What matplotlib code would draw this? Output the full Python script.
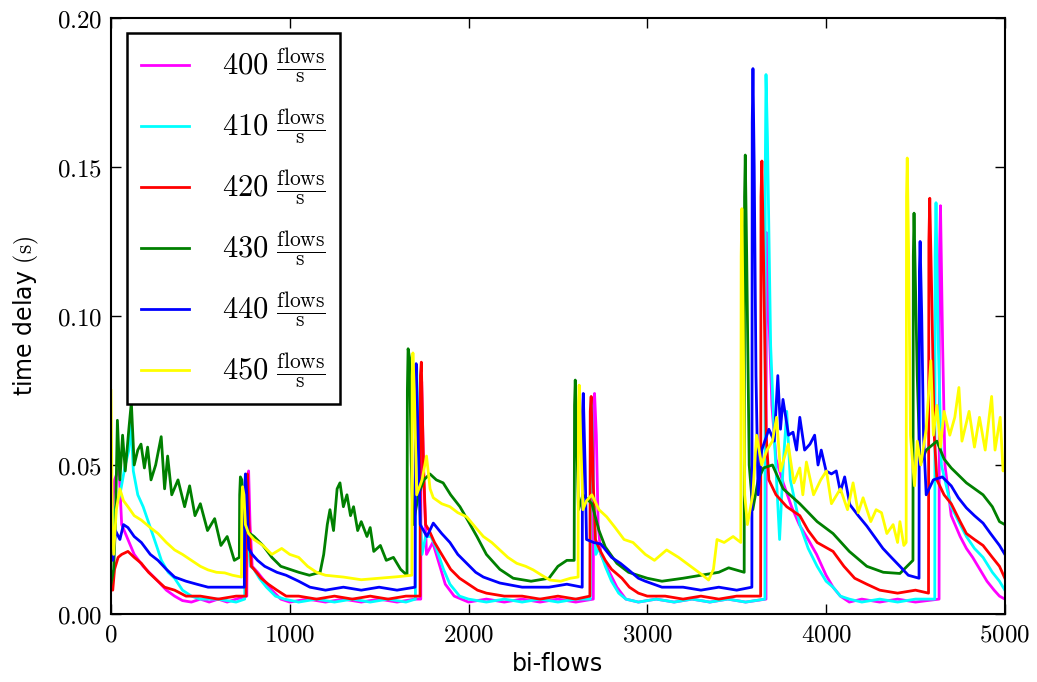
import matplotlib
matplotlib.use("Agg")
from matplotlib import pyplot as plt
from matplotlib.ticker import FuncFormatter

plt.rcParams['mathtext.fontset'] = 'cm'
plt.rcParams['font.family'] = ['DejaVu Sans']

# (bi-flows, time delay in s), one list per rate
rate_400 = [(0, 0.030), (20, 0.045), (45, 0.049), (60, 0.030), (95, 0.025), (130, 0.020), (180, 0.016),
            (230, 0.013), (263, 0.011), (310, 0.008), (356, 0.006), (400, 0.0045), (450, 0.004), (500, 0.005),
            (550, 0.004), (600, 0.005), (650, 0.004), (700, 0.005), (760, 0.006),
            (763, 0.046), (770, 0.048), (778, 0.030), (790, 0.016), (820, 0.014), (860, 0.011), (900, 0.008),
            (950, 0.005), (1000, 0.004), (1100, 0.005), (1200, 0.004), (1300, 0.005), (1400, 0.004),
            (1500, 0.005), (1600, 0.004), (1700, 0.005), (1733, 0.005),
            (1734, 0.070), (1738, 0.078), (1750, 0.045), (1765, 0.020), (1800, 0.024), (1830, 0.018),
            (1870, 0.010), (1920, 0.006), (2000, 0.004), (2100, 0.005), (2200, 0.004), (2300, 0.005),
            (2400, 0.004), (2500, 0.005), (2600, 0.004), (2698, 0.005),
            (2700, 0.060), (2705, 0.074), (2715, 0.060), (2725, 0.030), (2740, 0.020), (2780, 0.015),
            (2830, 0.009), (2880, 0.005), (2950, 0.004), (3050, 0.005), (3150, 0.004), (3250, 0.005),
            (3350, 0.004), (3450, 0.005), (3550, 0.004), (3664, 0.005),
            (3666, 0.128), (3680, 0.100), (3697, 0.070), (3720, 0.052), (3760, 0.044), (3807, 0.036),
            (3850, 0.030), (3900, 0.025), (3947, 0.020), (4000, 0.013), (4039, 0.009), (4080, 0.006),
            (4130, 0.004), (4200, 0.005), (4300, 0.004), (4400, 0.005), (4500, 0.004), (4632, 0.005),
            (4634, 0.120), (4640, 0.137), (4652, 0.090), (4665, 0.050), (4700, 0.033), (4750, 0.026),
            (4785, 0.022), (4820, 0.019), (4860, 0.015), (4900, 0.011), (4940, 0.008), (4970, 0.006),
            (5000, 0.005)]

rate_410 = [(0, 0.025), (20, 0.035), (50, 0.040), (80, 0.050), (100, 0.055), (113, 0.064), (125, 0.048),
            (150, 0.040), (180, 0.036), (226, 0.028), (260, 0.022), (282, 0.018), (320, 0.014), (356, 0.012),
            (400, 0.008), (450, 0.006), (500, 0.005), (600, 0.005), (700, 0.004), (748, 0.005),
            (750, 0.044), (756, 0.046), (765, 0.025), (780, 0.016), (800, 0.015), (830, 0.012), (870, 0.009),
            (920, 0.006), (970, 0.005), (1050, 0.004), (1150, 0.005), (1250, 0.004), (1350, 0.005),
            (1450, 0.004), (1550, 0.005), (1650, 0.004), (1703, 0.005),
            (1705, 0.080), (1710, 0.083), (1725, 0.040), (1740, 0.020), (1760, 0.026), (1790, 0.026),
            (1820, 0.022), (1860, 0.015), (1896, 0.010), (1950, 0.006), (2000, 0.005), (2100, 0.004),
            (2200, 0.005), (2300, 0.004), (2400, 0.005), (2500, 0.004), (2600, 0.005), (2681, 0.005),
            (2683, 0.068), (2688, 0.072), (2700, 0.040), (2712, 0.020), (2730, 0.022), (2765, 0.016),
            (2800, 0.011), (2840, 0.007), (2880, 0.005), (2950, 0.004), (3050, 0.005), (3150, 0.004),
            (3250, 0.005), (3350, 0.004), (3450, 0.005), (3550, 0.004), (3658, 0.005),
            (3660, 0.150), (3664, 0.181), (3672, 0.160), (3690, 0.090), (3710, 0.060), (3740, 0.025),
            (3760, 0.050), (3780, 0.068), (3800, 0.045), (3853, 0.030), (3900, 0.022), (3950, 0.016),
            (4000, 0.011), (4039, 0.009), (4080, 0.006), (4130, 0.005), (4200, 0.004), (4300, 0.005),
            (4400, 0.004), (4500, 0.005), (4608, 0.005),
            (4610, 0.120), (4615, 0.138), (4628, 0.090), (4645, 0.050), (4700, 0.036), (4750, 0.030),
            (4785, 0.026), (4830, 0.022), (4878, 0.019), (4930, 0.014), (4970, 0.011), (5000, 0.008)]

rate_420 = [(0, 0.010), (10, 0.008), (20, 0.015), (40, 0.019), (60, 0.020), (95, 0.021), (130, 0.019),
            (170, 0.017), (210, 0.014), (263, 0.011), (300, 0.009), (356, 0.008), (420, 0.006), (500, 0.006),
            (600, 0.005), (700, 0.006), (756, 0.006),
            (758, 0.040), (763, 0.047), (772, 0.030), (785, 0.016), (800, 0.015), (840, 0.012), (880, 0.010),
            (928, 0.008), (980, 0.006), (1050, 0.006), (1150, 0.005), (1250, 0.006), (1350, 0.005),
            (1450, 0.006), (1550, 0.005), (1650, 0.006), (1729, 0.006),
            (1731, 0.080), (1736, 0.0845), (1748, 0.050), (1760, 0.030), (1780, 0.028), (1810, 0.024),
            (1850, 0.020), (1900, 0.015), (1950, 0.012), (2000, 0.010), (2050, 0.008), (2100, 0.007),
            (2200, 0.006), (2300, 0.006), (2400, 0.005), (2500, 0.006), (2600, 0.005), (2679, 0.006),
            (2681, 0.068), (2686, 0.073), (2697, 0.045), (2710, 0.025), (2730, 0.022), (2765, 0.018),
            (2800, 0.015), (2858, 0.012), (2900, 0.009), (2950, 0.007), (3000, 0.006), (3100, 0.006),
            (3200, 0.005), (3300, 0.006), (3400, 0.005), (3500, 0.006), (3634, 0.006),
            (3636, 0.140), (3641, 0.152), (3650, 0.120), (3665, 0.060), (3680, 0.045), (3720, 0.040),
            (3780, 0.036), (3853, 0.033), (3900, 0.028), (3950, 0.024), (4039, 0.021), (4100, 0.016),
            (4160, 0.012), (4228, 0.010), (4300, 0.008), (4400, 0.007), (4500, 0.008), (4573, 0.007),
            (4575, 0.125), (4580, 0.1395), (4590, 0.110), (4605, 0.060), (4620, 0.045), (4660, 0.040),
            (4700, 0.037), (4750, 0.031), (4785, 0.027), (4830, 0.025), (4878, 0.023), (4930, 0.019),
            (4970, 0.016), (5000, 0.012)]

rate_430 = [(0, 0.010), (15, 0.015), (25, 0.030), (36, 0.065), (50, 0.045), (65, 0.060), (80, 0.048),
            (100, 0.062), (114, 0.071), (130, 0.050), (150, 0.055), (168, 0.057), (187, 0.049), (205, 0.056),
            (224, 0.045), (250, 0.050), (281, 0.0595), (300, 0.042), (317, 0.053), (340, 0.040), (375, 0.045),
            (412, 0.036), (440, 0.043), (470, 0.033), (500, 0.037), (540, 0.028), (580, 0.032), (615, 0.023),
            (650, 0.026), (690, 0.018), (718, 0.019),
            (720, 0.040), (724, 0.046), (732, 0.045), (740, 0.030), (755, 0.028), (800, 0.026), (850, 0.023),
            (900, 0.019), (950, 0.016), (1000, 0.015), (1050, 0.014), (1110, 0.013), (1170, 0.014),
            (1190, 0.020), (1210, 0.030), (1225, 0.035), (1245, 0.028), (1265, 0.042), (1281, 0.044),
            (1300, 0.036), (1320, 0.040), (1340, 0.033), (1357, 0.036), (1380, 0.028), (1400, 0.031),
            (1432, 0.026), (1450, 0.029), (1470, 0.021), (1507, 0.023), (1540, 0.018), (1580, 0.019),
            (1620, 0.015), (1656, 0.013),
            (1658, 0.075), (1662, 0.089), (1670, 0.086), (1680, 0.050), (1690, 0.030), (1720, 0.040),
            (1750, 0.045), (1784, 0.047), (1820, 0.045), (1858, 0.044), (1900, 0.040), (1952, 0.036),
            (2000, 0.031), (2047, 0.026), (2100, 0.020), (2175, 0.015), (2250, 0.012), (2350, 0.011),
            (2450, 0.012), (2500, 0.016), (2550, 0.018), (2591, 0.018),
            (2593, 0.070), (2597, 0.0785), (2605, 0.060), (2615, 0.035), (2640, 0.040), (2690, 0.037),
            (2730, 0.028), (2765, 0.0225), (2830, 0.017), (2895, 0.014), (3000, 0.012), (3082, 0.011),
            (3200, 0.012), (3300, 0.013), (3400, 0.014), (3455, 0.0155), (3542, 0.014),
            (3544, 0.140), (3548, 0.154), (3556, 0.120), (3570, 0.050), (3590, 0.035), (3620, 0.045),
            (3650, 0.049), (3700, 0.050), (3760, 0.042), (3853, 0.037), (3950, 0.031), (4039, 0.027),
            (4130, 0.021), (4228, 0.016), (4320, 0.014), (4413, 0.0136), (4486, 0.018),
            (4488, 0.120), (4492, 0.1345), (4500, 0.110), (4510, 0.080), (4525, 0.050), (4560, 0.055),
            (4620, 0.058), (4660, 0.052), (4700, 0.049), (4785, 0.044), (4878, 0.040), (4930, 0.036),
            (4970, 0.031), (5000, 0.030)]

rate_440 = [(0, 0.030), (10, 0.018), (25, 0.028), (50, 0.025), (70, 0.030), (95, 0.029), (130, 0.026),
            (170, 0.024), (220, 0.020), (263, 0.018), (310, 0.015), (356, 0.0124), (420, 0.011), (480, 0.010),
            (543, 0.009), (640, 0.009), (746, 0.009),
            (748, 0.040), (752, 0.047), (760, 0.040), (770, 0.022), (790, 0.020), (820, 0.018), (860, 0.016),
            (928, 0.014), (980, 0.013), (1050, 0.011), (1113, 0.009), (1200, 0.008), (1300, 0.009),
            (1400, 0.008), (1500, 0.009), (1600, 0.008), (1701, 0.009),
            (1703, 0.078), (1707, 0.084), (1718, 0.060), (1730, 0.030), (1767, 0.026), (1803, 0.0305),
            (1850, 0.027), (1896, 0.024), (1940, 0.020), (1990, 0.017), (2040, 0.014), (2083, 0.0124),
            (2175, 0.0104), (2300, 0.009), (2450, 0.009), (2550, 0.010), (2636, 0.009),
            (2638, 0.068), (2642, 0.074), (2652, 0.050), (2660, 0.025), (2700, 0.024), (2740, 0.0235),
            (2800, 0.019), (2850, 0.017), (2895, 0.0148), (2950, 0.012), (2989, 0.011), (3082, 0.009),
            (3200, 0.009), (3300, 0.008), (3400, 0.009), (3500, 0.008), (3585, 0.009),
            (3587, 0.165), (3591, 0.183), (3598, 0.150), (3608, 0.080), (3620, 0.040), (3640, 0.055),
            (3680, 0.062), (3710, 0.058), (3730, 0.080), (3745, 0.062), (3759, 0.072), (3790, 0.060),
            (3815, 0.061), (3835, 0.055), (3853, 0.066), (3880, 0.055), (3910, 0.057), (3936, 0.060),
            (3955, 0.050), (3973, 0.055), (4000, 0.048), (4030, 0.047), (4057, 0.048), (4080, 0.041),
            (4104, 0.046), (4133, 0.0367), (4180, 0.033), (4228, 0.0295), (4270, 0.026), (4318, 0.022),
            (4365, 0.019), (4413, 0.016), (4460, 0.013), (4520, 0.012),
            (4522, 0.115), (4526, 0.125), (4535, 0.100), (4545, 0.060), (4560, 0.040), (4600, 0.045),
            (4650, 0.046), (4700, 0.043), (4740, 0.039), (4785, 0.0356), (4830, 0.033), (4878, 0.0305),
            (4920, 0.027), (4970, 0.023), (5000, 0.020)]

rate_450 = [(0, 0.075), (8, 0.030), (15, 0.020), (30, 0.035), (50, 0.042), (70, 0.038), (95, 0.036),
            (130, 0.033), (170, 0.0315), (220, 0.029), (263, 0.027), (310, 0.024), (356, 0.0215), (400, 0.020),
            (450, 0.018), (500, 0.016), (543, 0.0148), (590, 0.014), (636, 0.0138), (680, 0.013), (730, 0.0124),
            (732, 0.038), (736, 0.0427), (744, 0.040), (752, 0.030), (770, 0.027), (800, 0.025), (850, 0.023),
            (900, 0.020), (955, 0.022), (1000, 0.020), (1050, 0.019), (1100, 0.016), (1150, 0.014),
            (1200, 0.013), (1300, 0.0124), (1400, 0.0115), (1500, 0.012), (1600, 0.0125), (1683, 0.013),
            (1685, 0.080), (1689, 0.0876), (1697, 0.075), (1710, 0.040), (1740, 0.045), (1765, 0.053),
            (1785, 0.042), (1803, 0.039), (1850, 0.037), (1896, 0.036), (1940, 0.034), (1990, 0.0326),
            (2040, 0.029), (2083, 0.026), (2130, 0.024), (2175, 0.0215), (2220, 0.019), (2270, 0.017),
            (2320, 0.016), (2362, 0.0148), (2410, 0.013), (2455, 0.0114), (2515, 0.011), (2570, 0.012),
            (2613, 0.0124),
            (2615, 0.070), (2619, 0.0768), (2627, 0.060), (2640, 0.035), (2660, 0.038), (2690, 0.040),
            (2730, 0.035), (2773, 0.0326), (2820, 0.029), (2870, 0.025), (2920, 0.024), (2989, 0.020),
            (3040, 0.018), (3108, 0.0215), (3175, 0.019), (3220, 0.017), (3269, 0.0148), (3310, 0.013),
            (3343, 0.0114), (3370, 0.015), (3390, 0.025), (3430, 0.024), (3480, 0.026), (3523, 0.024),
            (3525, 0.120), (3529, 0.136), (3536, 0.100), (3545, 0.040), (3560, 0.030), (3590, 0.040),
            (3611, 0.060), (3640, 0.050), (3669, 0.055), (3700, 0.058), (3723, 0.066), (3745, 0.048),
            (3788, 0.057), (3820, 0.044), (3853, 0.049), (3870, 0.040), (3890, 0.051), (3930, 0.040),
            (3970, 0.045), (4002, 0.048), (4030, 0.037), (4080, 0.042), (4120, 0.035), (4151, 0.044),
            (4180, 0.034), (4207, 0.039), (4250, 0.031), (4280, 0.035), (4310, 0.034), (4340, 0.027),
            (4375, 0.030), (4400, 0.024), (4413, 0.031), (4435, 0.023), (4448, 0.024),
            (4450, 0.140), (4454, 0.153), (4462, 0.120), (4472, 0.060), (4485, 0.050), (4495, 0.043),
            (4510, 0.058), (4530, 0.050), (4560, 0.062), (4586, 0.085), (4600, 0.060), (4620, 0.070),
            (4640, 0.056), (4660, 0.068), (4692, 0.060), (4720, 0.066), (4743, 0.076), (4760, 0.058),
            (4800, 0.068), (4830, 0.056), (4858, 0.066), (4890, 0.055), (4926, 0.073), (4945, 0.055),
            (4974, 0.066), (4990, 0.048), (5000, 0.050)]

rates = [400, 410, 420, 430, 440, 450]
series = [rate_400, rate_410, rate_420, rate_430, rate_440, rate_450]
colors = ['magenta', 'cyan', 'red', 'green', 'blue', 'yellow']

fig = plt.figure(figsize=(10.37, 6.82), dpi=100)
ax = fig.add_axes([0.107, 0.0997, 0.862, 0.874])

for rate, pts, c in zip(rates, series, colors):
    xs, ys = zip(*pts)
    ax.plot(xs, ys, color=c, linewidth=2.0,
            label=r'$%d\ \frac{\mathrm{flows}}{\mathrm{s}}$' % rate)

ax.set_xlim(0, 5000)
ax.set_ylim(0, 0.20)
ax.set_xticks([0, 1000, 2000, 3000, 4000, 5000])
ax.set_yticks([0.0, 0.05, 0.10, 0.15, 0.20])
ax.xaxis.set_major_formatter(FuncFormatter(lambda v, p: r'$%d$' % v))
ax.yaxis.set_major_formatter(FuncFormatter(lambda v, p: r'$%.2f$' % v))
ax.tick_params(direction='in', length=7, width=1, top=True, right=True, labelsize=18, pad=6)
for s in ax.spines.values():
    s.set_linewidth(1.5)

ax.set_xlabel('bi-flows', fontsize=17)
ax.set_ylabel(r'time delay $(\mathrm{s})$', fontsize=17, labelpad=12)

leg = ax.legend(loc='upper left', bbox_to_anchor=(0.018, 0.975), borderaxespad=0, fontsize=22,
                fancybox=False, handlelength=1.57, handletextpad=1.1, labelspacing=0.72,
                borderpad=0.45, framealpha=1)
leg.get_frame().set_edgecolor('black')
leg.get_frame().set_linewidth(1.8)

plt.savefig('out.png', dpi=100)
